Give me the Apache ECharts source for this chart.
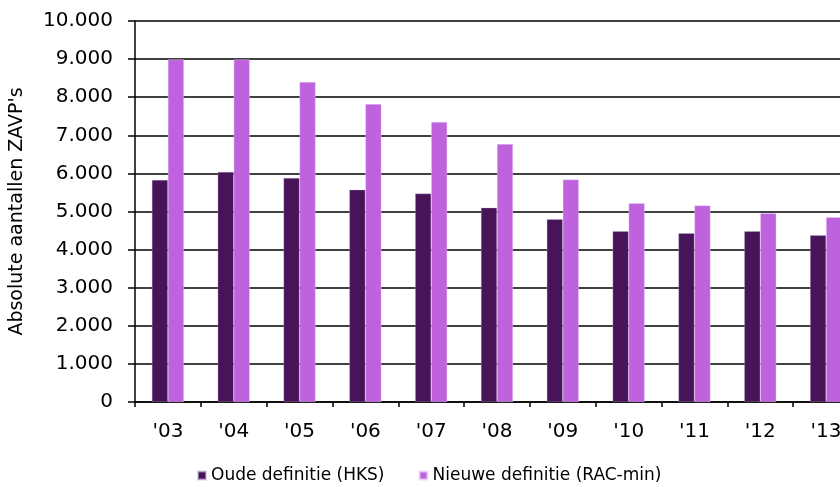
<!DOCTYPE html>
<html>
<head>
<meta charset="utf-8">
<script src="https://cdn.jsdelivr.net/npm/echarts@6/dist/echarts.min.js"></script>
<style>html,body{margin:0;padding:0;background:#fff;overflow:hidden;}#c{width:880px;height:487px;}</style>
</head>
<body>
<div id="c"></div>
<script>
var categories = ["'03","'04","'05","'06","'07","'08","'09","'10","'11","'12","'13"];
var oudeHKS = [5830, 6040, 5880, 5570, 5470, 5100, 4795, 4480, 4430, 4480, 4375];
var nieuweRAC = [8990, 8990, 8400, 7820, 7350, 6770, 5840, 5215, 5160, 4955, 4850];
var seriesNames = ["Oude definitie (HKS)", "Nieuwe definitie (RAC-min)"];
var yTicks = {min: 0, max: 10000, interval: 1000};

function fmt(v) {
  return String(v).replace(/\B(?=(\d{3})+(?!\d))/g, '.');
}
var FONT = 'DejaVu Sans';
var chart = echarts.init(document.getElementById('c'), null, {renderer: 'canvas'});
chart.setOption({
  animation: false,
  backgroundColor: '#fff',
  grid: {left: 135, top: 21, right: 21, bottom: 85, containLabel: false},
  legend: {
    data: seriesNames,
    top: 462,
    left: 192,
    itemWidth: 8, itemHeight: 8, itemGap: 34,
    icon: 'rect',
    textStyle: {fontFamily: FONT, fontSize: 17, color: '#000'}
  },
  xAxis: {
    type: 'category',
    data: categories,
    axisLine: {lineStyle: {color: '#000', width: 1.5}},
    axisTick: {show: true, length: 5, lineStyle: {color: '#000', width: 1.5}},
    axisLabel: {fontFamily: FONT, fontSize: 20, color: '#000', margin: 20}
  },
  yAxis: {
    type: 'value',
    min: yTicks.min, max: yTicks.max, interval: yTicks.interval,
    name: "Absolute aantallen ZAVP's",
    nameLocation: 'middle',
    nameGap: 108,
    nameTextStyle: {fontFamily: FONT, fontSize: 19, color: '#000'},
    axisLine: {show: true, lineStyle: {color: '#000', width: 1.5}},
    axisTick: {show: true, length: 7, lineStyle: {color: '#000', width: 1.5}},
    axisLabel: {fontFamily: FONT, fontSize: 20, color: '#000', margin: 22, formatter: fmt},
    splitLine: {show: true, lineStyle: {color: '#000', width: 1.5}}
  },
  series: [
    {
      name: seriesNames[0], type: 'bar', data: oudeHKS,
      barWidth: 16, barGap: '0%',
      itemStyle: {color: '#47145a', borderColor: 'rgba(200,180,210,0.6)', borderWidth: 0.5}
    },
    {
      name: seriesNames[1], type: 'bar', data: nieuweRAC,
      barWidth: 16, barGap: '0%',
      itemStyle: {color: '#be63dd', borderColor: 'rgba(240,210,250,0.8)', borderWidth: 0.5}
    }
  ]
});
</script>
</body>
</html>
